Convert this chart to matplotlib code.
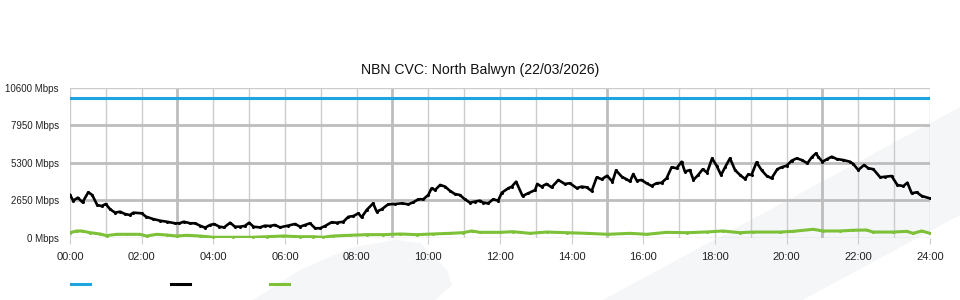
import numpy as np
import matplotlib
matplotlib.use("Agg")
import matplotlib.pyplot as plt
from matplotlib.patches import Polygon
from matplotlib.lines import Line2D

plt.rcParams['font.family'] = ['Liberation Sans', 'DejaVu Sans']

title = "NBN CVC: North Balwyn (22/03/2026)"

# capacity (flat)
cap_hours = [0, 24]
cap_mbps = [9880, 9880]

# total traffic (hours, Mbps)
traffic_hours = [
    0.00, 0.09, 0.22, 0.35, 0.51, 0.62, 0.76, 0.88, 1.00, 1.12, 1.26, 1.40, 1.53, 1.67, 1.77,
    2.00, 2.12, 2.32, 2.51, 2.70, 2.93, 3.05, 3.18, 3.35, 3.49, 3.63, 3.77, 3.91, 4.02, 4.17,
    4.30, 4.47, 4.60, 4.74, 4.88, 5.00, 5.12, 5.30, 5.44, 5.58, 5.72, 5.86, 6.08, 6.28, 6.42,
    6.56, 6.70, 6.84, 6.98, 7.12, 7.30, 7.44, 7.63, 7.77, 7.91, 8.05, 8.14, 8.28, 8.46, 8.56,
    8.70, 8.88, 9.07, 9.26, 9.44, 9.58, 9.72, 9.86, 10.00, 10.09, 10.19, 10.33, 10.47, 10.60,
    10.74, 10.88, 11.02, 11.16, 11.30, 11.44, 11.53, 11.67, 11.81, 11.95, 12.05, 12.23, 12.33,
    12.45, 12.63, 12.79, 12.98, 13.04, 13.16, 13.30, 13.44, 13.63, 13.81, 13.95, 14.14, 14.28,
    14.42, 14.56, 14.70, 14.84, 14.99, 15.14, 15.24, 15.40, 15.53, 15.63, 15.72, 15.82, 15.95,
    16.09, 16.23, 16.37, 16.51, 16.65, 16.79, 16.93, 17.07, 17.16, 17.30, 17.40, 17.53, 17.66,
    17.78, 17.92, 18.05, 18.17, 18.28, 18.42, 18.56, 18.70, 18.84, 18.93, 19.02, 19.16, 19.30,
    19.44, 19.58, 19.74, 19.86, 20.00, 20.14, 20.28, 20.42, 20.58, 20.70, 20.82, 20.88, 21.00,
    21.12, 21.26, 21.40, 21.58, 21.77, 21.86, 22.00, 22.16, 22.28, 22.42, 22.61, 22.75, 22.93,
    23.09, 23.26, 23.37, 23.49, 23.63, 23.77, 24.00]
traffic_mbps = [
    3040, 2640, 2850, 2520, 3230, 3040, 2330, 2260, 2400, 2030, 1790, 1860, 1700, 1625, 1790,
    1745, 1510, 1340, 1225, 1150, 1040, 1040, 1150, 1040, 1040, 870, 730, 920, 990, 800,
    750, 1080, 800, 800, 850, 1080, 800, 750, 870, 850, 920, 750, 870, 990, 800,
    920, 1040, 690, 690, 850, 1110, 1080, 1150, 1500, 1550, 1745, 1460, 1980, 2450, 1860,
    2030, 2380, 2400, 2450, 2380, 2520, 2735, 2735, 3040, 3510, 3390, 3750, 3630, 3340,
    3110, 3040, 2735, 2500, 2570, 2640, 2500, 2450, 2735, 2640, 3200, 3510, 3630,
    3980, 2970, 3160, 3390, 3820, 3630, 3820, 3580, 4100, 3820, 3870, 3530, 3630,
    3580, 3320, 4290, 4150, 4400, 3980, 4780, 4330, 4150, 4000, 4520, 4050, 4100,
    3870, 3680, 3870, 3900, 4220, 5000, 4930, 5390, 4690, 4800, 4100, 4450, 4860,
    4620, 5630, 5090, 4450, 4990, 5630, 4800, 4450, 4170, 4500, 4450, 5350, 4800,
    4400, 4220, 4860, 5000, 5110, 5460, 5630, 5510, 5280, 5700, 5985, 5740, 5390,
    5560, 5745, 5580, 5510, 5390, 5230, 4800, 5160, 4930, 4860, 4290, 4330, 4380,
    3745, 3670, 3910, 3160, 3230, 2970, 2800]

# lower series
low_hours = [
    0.00, 0.19, 0.33, 0.56, 0.84, 1.02, 1.30, 1.58, 1.95, 2.14, 2.42, 2.70, 2.98, 3.26, 3.63,
    3.99, 4.55, 5.11, 5.49, 5.95, 6.42, 6.78, 7.06, 7.34, 7.81, 8.28, 8.74, 9.21, 9.68, 10.13,
    10.60, 10.97, 11.21, 11.44, 12.00, 12.36, 12.84, 13.30, 13.86, 14.42, 15.01, 15.63, 16.09,
    16.65, 17.21, 17.77, 18.22, 18.70, 19.06, 19.81, 20.18, 20.74, 21.01, 21.49, 21.85, 22.23,
    22.41, 22.97, 23.35, 23.53, 23.77, 24.00]
low_mbps = [
    375, 495, 495, 375, 283, 165, 260, 260, 260, 140, 260, 210, 140, 190, 140,
    50, 50, 50, 90, 140, 90, 90, 50, 140, 190, 235, 235, 283, 235, 283,
    330, 375, 495, 400, 400, 445, 330, 420, 375, 330, 260, 330, 260,
    400, 375, 425, 495, 375, 420, 420, 470, 615, 495, 495, 545, 565,
    420, 420, 470, 330, 495, 330]

y_ticks = [0, 2650, 5300, 7950, 10600]
x_ticks = list(range(0, 25, 2))
x_labels = ["{:02d}:00".format(h) for h in x_ticks]

fig = plt.figure(figsize=(9.6, 3.0), dpi=100)

# faint background shapes, behind everything
band = Polygon([(0.628, 0), (1, 0.643), (1, 0.283), (0.836, 0)], closed=True,
               transform=fig.transFigure, facecolor='#f5f6f8', edgecolor='none', zorder=-5)
hill = Polygon([(0.2635, 0), (0.3125, 0.1), (0.3646, 0.173), (0.4115, 0.2), (0.4375, 0.19),
                (0.4656, 0.1), (0.4708, 0.05), (0.4531, 0)], closed=True,
               transform=fig.transFigure, facecolor='#f5f6f8', edgecolor='none', zorder=-5)
fig.patches.extend([band, hill])

ax = fig.add_axes([0.0729, 0.2067, 0.8958, 0.5])
ax.set_facecolor('none')
ax.set_zorder(1)

# grid: every hour, heavier every 6h starting 03:00
for h in range(0, 25):
    heavy = h % 6 == 3
    ax.axvline(h, color='#bdbdbd' if heavy else '#cccccc', lw=2.0 if heavy else 1.0, zorder=1)
for v in y_ticks:
    heavy = v not in (0, 10600)
    ax.axhline(v, color='#bdbdbd' if heavy else '#cccccc', lw=2.0 if heavy else 1.0, zorder=1)

ax.plot(cap_hours, cap_mbps, color='#1ea5e0', lw=2.2, zorder=3)
ax.plot(traffic_hours, traffic_mbps, color='#000000', lw=1.9, zorder=4,
        marker='o', markersize=1.2)
ax.plot(low_hours, low_mbps, color='#7cc137', lw=2.2, zorder=3,
        marker='o', markersize=1.2)

ax.set_xlim(0, 24)
ax.set_ylim(0, 10600)
ax.set_xticks(x_ticks)
ax.set_xticklabels(x_labels, fontsize=8, color='#222222')
ax.set_yticks(y_ticks)
ax.set_yticklabels(["{} Mbps".format(v) for v in y_ticks], fontsize=7, color='#222222')
ax.tick_params(axis='x', length=4, color='#cccccc', pad=6)
ax.tick_params(axis='y', length=0, pad=8)
for s in ax.spines.values():
    s.set_visible(False)

fig.text(0.5, 1 - 70 / 300, title, fontsize=10.1, color='#111111', ha='center', va='center')

handles = [Line2D([], [], color='#1ea5e0', lw=2.2),
           Line2D([], [], color='#000000', lw=2.2),
           Line2D([], [], color='#7cc137', lw=2.2)]
fig.legend(handles, [" ", " ", " "], loc='lower left', bbox_to_anchor=(0.064, 0.0),
           ncol=3, frameon=False, fontsize=8, handlelength=1.7, handletextpad=0.2,
           columnspacing=6.75)

fig.savefig("out.png", dpi=100)
